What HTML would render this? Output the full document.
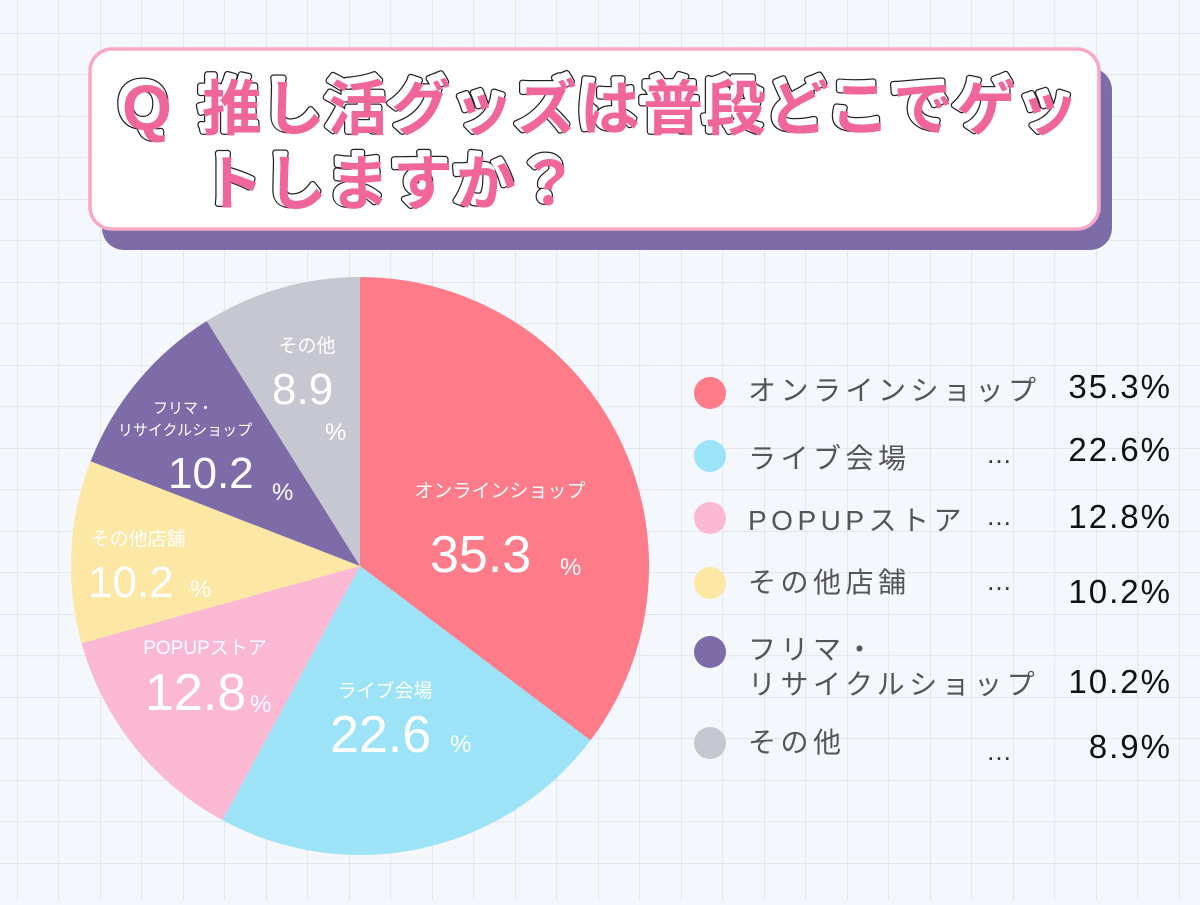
<!DOCTYPE html>
<html><head><meta charset="utf-8"><style>
html,body{margin:0;padding:0;}
body{width:1200px;height:900px;overflow:hidden;background:#f4f7fc;}
</style></head><body>
<svg width="1200" height="900" viewBox="0 0 1200 900" xmlns="http://www.w3.org/2000/svg" font-family="'Liberation Sans','Noto Sans CJK JP',sans-serif">
<defs>
<pattern id="g" x="17" y="33" width="41.5" height="41.5" patternUnits="userSpaceOnUse">
<path d="M0 0V41.5M0 0H41.5" stroke="#d8dbe6" stroke-width="1.2" fill="none"/>
</pattern>
</defs>
<rect width="1200" height="900" fill="#f4f7fc"/>
<rect width="1200" height="900" fill="url(#g)"/>
<rect x="102" y="68" width="1010" height="182" rx="22" fill="#7c6ca8"/>
<rect x="90" y="49" width="1009" height="180" rx="22" fill="#fff" stroke="#f7a8c4" stroke-width="3.5"/>
<g font-size="60" font-weight="bold" fill="#f0669b" stroke-linejoin="round">
<g stroke="#222" stroke-width="7" transform="translate(-2,-2)" fill="#222">
<text x="120" y="128" font-size="64">Q</text><text x="200" y="128" letter-spacing="3">推し活グッズは普段どこでゲッ</text><text x="202" y="203" letter-spacing="3">トしますか？</text>
</g>
<g stroke="#fff" stroke-width="4.5" transform="translate(-2,-2)" fill="#fff">
<text x="120" y="128" font-size="64">Q</text><text x="200" y="128" letter-spacing="3">推し活グッズは普段どこでゲッ</text><text x="202" y="203" letter-spacing="3">トしますか？</text>
</g>
<text x="122" y="130" font-size="64">Q</text><text x="202" y="130" letter-spacing="3">推し活グッズは普段どこでゲッ</text><text x="204" y="205" letter-spacing="3">トしますか？</text>
</g>
<g>
<path d="M360 566 L360 277 A289 289 0 0 1 590.5 740.4Z" fill="#fe7b8a"/>
<path d="M360 566 L590.5 740.4 A289 289 0 0 1 222.4 820.1Z" fill="#9de3f7"/>
<path d="M360 566 L222.4 820.1 A289 289 0 0 1 81.5 643.1Z" fill="#fab8d2"/>
<path d="M360 566 L81.5 643.1 A289 289 0 0 1 90.6 461.3Z" fill="#fce7a4"/>
<path d="M360 566 L90.6 461.3 A289 289 0 0 1 206.7 321Z" fill="#7e6ca9"/>
<path d="M360 566 L206.7 321 A289 289 0 0 1 360 277Z" fill="#c7c7d1"/>
</g>
<g fill="#fff">
<text x="500" y="497" font-size="19" text-anchor="middle">オンラインショップ</text>
<text x="430" y="572" font-size="52">35.3</text><text x="560" y="575" font-size="24">%</text>
<text x="385" y="697" font-size="19" text-anchor="middle">ライブ会場</text>
<text x="330" y="752" font-size="52">22.6</text><text x="450" y="752" font-size="24">%</text>
<text x="205" y="654" font-size="19" text-anchor="middle">POPUPストア</text>
<text x="145" y="710" font-size="52">12.8</text><text x="250" y="712" font-size="24">%</text>
<text x="138" y="545" font-size="19" text-anchor="middle">その他店舗</text>
<text x="88" y="597" font-size="44">10.2</text><text x="190" y="597" font-size="24">%</text>
<text x="183" y="413" font-size="15" text-anchor="middle">フリマ・</text>
<text x="185" y="435" font-size="15" text-anchor="middle">リサイクルショップ</text>
<text x="168" y="488" font-size="44">10.2</text><text x="272" y="500" font-size="24">%</text>
<text x="307" y="352" font-size="19" text-anchor="middle">その他</text>
<text x="272" y="404" font-size="44">8.9</text><text x="325" y="440" font-size="24">%</text>
</g>
<g font-size="28" fill="#555" letter-spacing="4.5">
<circle cx="710" cy="393" r="16" fill="#fe7b8a"/><text x="748" y="400">オンラインショップ</text>
<circle cx="710" cy="456" r="16" fill="#9de3f7"/><text x="748" y="468">ライブ会場</text>
<circle cx="710" cy="518" r="16" fill="#fab8d2"/><text x="748" y="530">POPUPストア</text>
<circle cx="710" cy="583" r="16" fill="#fce7a4"/><text x="748" y="592">その他店舗</text>
<circle cx="710" cy="652" r="16" fill="#7e6ca9"/><text x="748" y="659">フリマ・</text><text x="748" y="694">リサイクルショップ</text>
<circle cx="710" cy="743" r="16" fill="#c7c7d1"/><text x="748" y="752">その他</text>
<g letter-spacing="2" fill="#333" font-size="26"><text x="986" y="463">…</text><text x="986" y="525">…</text><text x="986" y="590">…</text><text x="986" y="760">…</text></g>
</g>
<g font-size="33" fill="#111" text-anchor="end" letter-spacing="2">
<text x="1172" y="398">35.3%</text>
<text x="1172" y="461">22.6%</text>
<text x="1172" y="528">12.8%</text>
<text x="1172" y="603">10.2%</text>
<text x="1172" y="693">10.2%</text>
<text x="1172" y="758">8.9%</text>
</g>
</svg>
</body></html>
